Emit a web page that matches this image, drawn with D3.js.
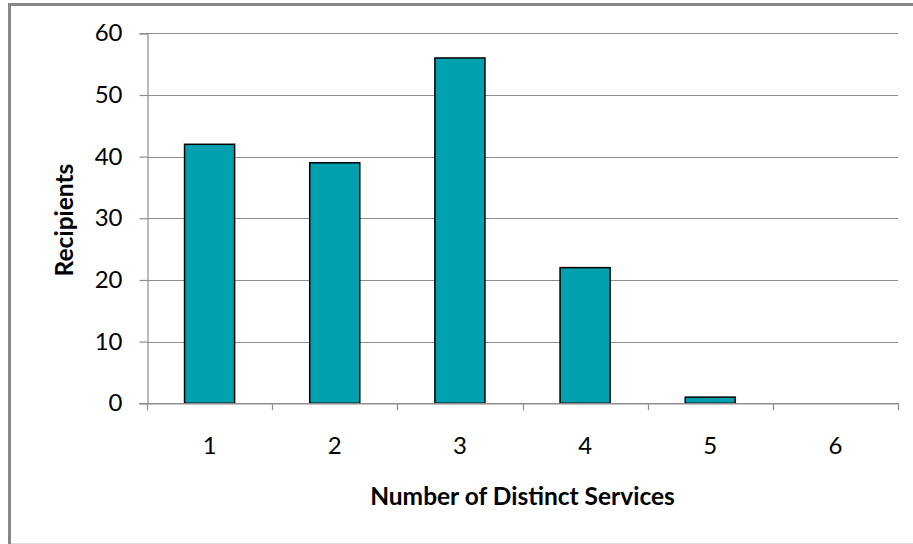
<!DOCTYPE html>
<html>
<head>
<meta charset="utf-8">
<script src="https://cdn.jsdelivr.net/npm/d3@7"></script>
<style>
  html, body { margin: 0; padding: 0; background: #fff; }
  svg { display: block; }
  text { font-family: Lato, "Open Sans", sans-serif; fill: #000; }
</style>
</head>
<body>
<svg id="chart" width="913" height="544"></svg>
<script>
// Recipients by number of distinct services received
const categories = ["1", "2", "3", "4", "5", "6"];
const recipients = [42, 39, 56, 22, 1, 0];
const yTicks = [0, 10, 20, 30, 40, 50, 60];

const svg = d3.select("#chart");
const W = 913, H = 544;
const plot = { left: 147, right: 898, top: 33.3, bottom: 403.3 };
const gridColor = "#8e8e8e";
const tickFont = 24;
const titleFont = 24.5;

// outer chart frame
svg.append("rect")
  .attr("x", 9.5).attr("y", 4.5)
  .attr("width", W + 20).attr("height", H + 20)
  .attr("fill", "#fff")
  .attr("stroke", "#878787").attr("stroke-width", 3);
svg.append("line")
  .attr("x1", 11).attr("x2", W).attr("y1", 543.5).attr("y2", 543.5)
  .attr("stroke", "#dcdcdc").attr("stroke-width", 1);

const x = d3.scaleBand().domain(categories).range([plot.left, plot.right]).paddingInner(0).paddingOuter(0);
const y = d3.scaleLinear().domain([0, 60]).range([plot.bottom, plot.top]);

// horizontal gridlines
svg.append("g").selectAll("line").data(yTicks.filter(d => d > 0)).join("line")
  .attr("x1", plot.left).attr("x2", plot.right)
  .attr("y1", d => Math.round(y(d)) + 0.5).attr("y2", d => Math.round(y(d)) + 0.5)
  .attr("stroke", gridColor).attr("stroke-width", 1.2);

// y axis
const yAxis = svg.append("g")
  .attr("transform", `translate(${plot.left + 0.5},0)`)
  .call(d3.axisLeft(y).tickValues(yTicks).tickSize(8).tickPadding(17).tickFormat(d3.format("d")));
yAxis.select(".domain").attr("stroke", gridColor).attr("stroke-width", 1.2);
yAxis.selectAll(".tick line").attr("stroke", gridColor).attr("stroke-width", 1.2);
yAxis.selectAll(".tick text").attr("font-size", tickFont).attr("font-family", "Lato, sans-serif").attr("fill", "#000");
yAxis.attr("font-family", null).attr("font-size", null);

// bars
const barW = x.bandwidth() * 0.4;
svg.append("g").selectAll("rect").data(recipients.map((v, i) => ({ c: categories[i], v })).filter(d => d.v > 0)).join("rect")
  .attr("x", d => x(d.c) + (x.bandwidth() - barW) / 2)
  .attr("width", barW)
  .attr("y", d => y(d.v))
  .attr("height", d => y(0) - y(d.v))
  .attr("fill", "#00A0AE")
  .attr("stroke", "#000").attr("stroke-width", 1.5);

// x axis
const xAxis = svg.append("g")
  .attr("transform", `translate(0,${Math.round(plot.bottom) + 0.5})`)
  .call(d3.axisBottom(x).tickSize(0).tickPadding(33));
xAxis.select(".domain").attr("stroke", gridColor).attr("stroke-width", 1.2);
xAxis.selectAll(".tick text").attr("font-size", tickFont).attr("font-family", "Lato, sans-serif").attr("fill", "#000");
xAxis.attr("font-family", null).attr("font-size", null);
// category boundary tick marks
const bounds = categories.map(c => x(c)).concat([plot.right]);
svg.append("g").selectAll("line").data(bounds).join("line")
  .attr("x1", d => Math.round(d) + 0.5).attr("x2", d => Math.round(d) + 0.5)
  .attr("y1", plot.bottom).attr("y2", plot.bottom + 7)
  .attr("stroke", gridColor).attr("stroke-width", 1.2);
// extend baseline to the left tick
svg.append("line")
  .attr("x1", plot.left - 8).attr("x2", plot.right)
  .attr("y1", Math.round(plot.bottom) + 0.5).attr("y2", Math.round(plot.bottom) + 0.5)
  .attr("stroke", gridColor).attr("stroke-width", 1.2);

// axis titles
svg.append("text")
  .attr("x", (plot.left + plot.right) / 2).attr("y", 505)
  .attr("text-anchor", "middle")
  .attr("font-size", titleFont).attr("font-weight", "bold")
  .text("Number of Distinct Services");

svg.append("text")
  .attr("transform", `translate(73,220) rotate(-90)`)
  .attr("text-anchor", "middle")
  .attr("font-size", titleFont).attr("font-weight", "bold")
  .text("Recipients");
</script>
</body>
</html>
